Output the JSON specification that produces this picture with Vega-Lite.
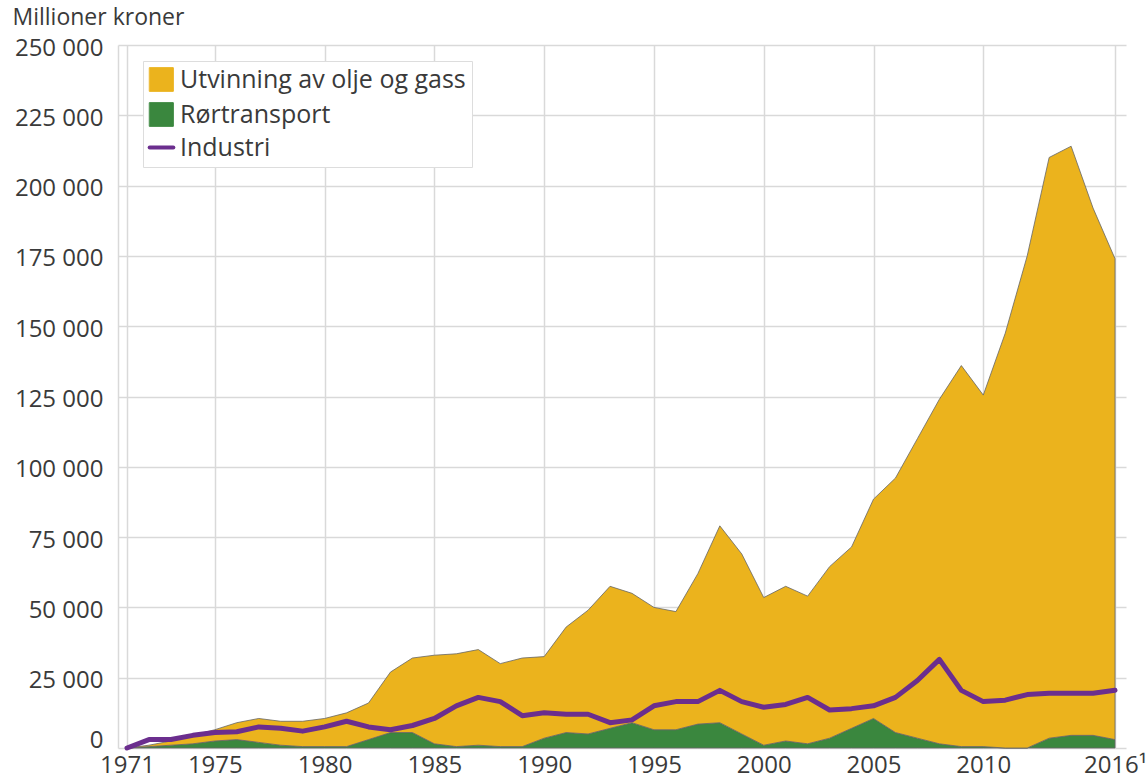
{
  "$schema": "https://vega.github.io/schema/vega-lite/v6.json",
  "width": 1008,
  "height": 703,
  "autosize": {"type": "none"},
  "padding": {"left": 118, "top": 45, "right": 21, "bottom": 36},
  "background": "white",
  "config": {
    "view": {"stroke": null},
    "font": "Open Sans",
    "axis": {"labelFont": "Open Sans", "titleFont": "Open Sans", "labelColor": "#3a3a3a", "titleColor": "#3a3a3a"}
  },
  "data": {"values": [
    {"year":1971,"serie":"Rørtransport","value":0},{"year":1972,"serie":"Rørtransport","value":500},{"year":1973,"serie":"Rørtransport","value":1000},{"year":1974,"serie":"Rørtransport","value":1500},{"year":1975,"serie":"Rørtransport","value":2500},{"year":1976,"serie":"Rørtransport","value":3000},{"year":1977,"serie":"Rørtransport","value":2000},{"year":1978,"serie":"Rørtransport","value":1000},{"year":1979,"serie":"Rørtransport","value":500},{"year":1980,"serie":"Rørtransport","value":500},{"year":1981,"serie":"Rørtransport","value":500},{"year":1982,"serie":"Rørtransport","value":3000},{"year":1983,"serie":"Rørtransport","value":5500},{"year":1984,"serie":"Rørtransport","value":5500},{"year":1985,"serie":"Rørtransport","value":1500},{"year":1986,"serie":"Rørtransport","value":500},{"year":1987,"serie":"Rørtransport","value":1000},{"year":1988,"serie":"Rørtransport","value":500},{"year":1989,"serie":"Rørtransport","value":500},{"year":1990,"serie":"Rørtransport","value":3500},{"year":1991,"serie":"Rørtransport","value":5500},{"year":1992,"serie":"Rørtransport","value":5000},{"year":1993,"serie":"Rørtransport","value":7000},{"year":1994,"serie":"Rørtransport","value":9000},{"year":1995,"serie":"Rørtransport","value":6500},{"year":1996,"serie":"Rørtransport","value":6500},{"year":1997,"serie":"Rørtransport","value":8500},{"year":1998,"serie":"Rørtransport","value":9000},{"year":1999,"serie":"Rørtransport","value":5000},{"year":2000,"serie":"Rørtransport","value":1000},{"year":2001,"serie":"Rørtransport","value":2500},{"year":2002,"serie":"Rørtransport","value":1500},{"year":2003,"serie":"Rørtransport","value":3500},{"year":2004,"serie":"Rørtransport","value":7000},{"year":2005,"serie":"Rørtransport","value":10500},{"year":2006,"serie":"Rørtransport","value":5500},{"year":2007,"serie":"Rørtransport","value":3500},{"year":2008,"serie":"Rørtransport","value":1500},{"year":2009,"serie":"Rørtransport","value":500},{"year":2010,"serie":"Rørtransport","value":500},{"year":2011,"serie":"Rørtransport","value":0},{"year":2012,"serie":"Rørtransport","value":0},{"year":2013,"serie":"Rørtransport","value":3500},{"year":2014,"serie":"Rørtransport","value":4500},{"year":2015,"serie":"Rørtransport","value":4500},{"year":2016,"serie":"Rørtransport","value":3000},
    {"year":1971,"serie":"Utvinning av olje og gass","value":0},{"year":1972,"serie":"Utvinning av olje og gass","value":500},{"year":1973,"serie":"Utvinning av olje og gass","value":1500},{"year":1974,"serie":"Utvinning av olje og gass","value":3000},{"year":1975,"serie":"Utvinning av olje og gass","value":4000},{"year":1976,"serie":"Utvinning av olje og gass","value":6000},{"year":1977,"serie":"Utvinning av olje og gass","value":8500},{"year":1978,"serie":"Utvinning av olje og gass","value":8500},{"year":1979,"serie":"Utvinning av olje og gass","value":9000},{"year":1980,"serie":"Utvinning av olje og gass","value":10000},{"year":1981,"serie":"Utvinning av olje og gass","value":12000},{"year":1982,"serie":"Utvinning av olje og gass","value":13000},{"year":1983,"serie":"Utvinning av olje og gass","value":21500},{"year":1984,"serie":"Utvinning av olje og gass","value":26500},{"year":1985,"serie":"Utvinning av olje og gass","value":31500},{"year":1986,"serie":"Utvinning av olje og gass","value":33000},{"year":1987,"serie":"Utvinning av olje og gass","value":34000},{"year":1988,"serie":"Utvinning av olje og gass","value":29500},{"year":1989,"serie":"Utvinning av olje og gass","value":31500},{"year":1990,"serie":"Utvinning av olje og gass","value":29000},{"year":1991,"serie":"Utvinning av olje og gass","value":37500},{"year":1992,"serie":"Utvinning av olje og gass","value":44000},{"year":1993,"serie":"Utvinning av olje og gass","value":50500},{"year":1994,"serie":"Utvinning av olje og gass","value":46000},{"year":1995,"serie":"Utvinning av olje og gass","value":43500},{"year":1996,"serie":"Utvinning av olje og gass","value":42000},{"year":1997,"serie":"Utvinning av olje og gass","value":53500},{"year":1998,"serie":"Utvinning av olje og gass","value":70000},{"year":1999,"serie":"Utvinning av olje og gass","value":64000},{"year":2000,"serie":"Utvinning av olje og gass","value":52500},{"year":2001,"serie":"Utvinning av olje og gass","value":55000},{"year":2002,"serie":"Utvinning av olje og gass","value":52500},{"year":2003,"serie":"Utvinning av olje og gass","value":61000},{"year":2004,"serie":"Utvinning av olje og gass","value":64500},{"year":2005,"serie":"Utvinning av olje og gass","value":78000},{"year":2006,"serie":"Utvinning av olje og gass","value":90500},{"year":2007,"serie":"Utvinning av olje og gass","value":106500},{"year":2008,"serie":"Utvinning av olje og gass","value":122500},{"year":2009,"serie":"Utvinning av olje og gass","value":135500},{"year":2010,"serie":"Utvinning av olje og gass","value":125000},{"year":2011,"serie":"Utvinning av olje og gass","value":147500},{"year":2012,"serie":"Utvinning av olje og gass","value":175000},{"year":2013,"serie":"Utvinning av olje og gass","value":206500},{"year":2014,"serie":"Utvinning av olje og gass","value":209500},{"year":2015,"serie":"Utvinning av olje og gass","value":187500},{"year":2016,"serie":"Utvinning av olje og gass","value":171000},
    {"year":1971,"serie":"Industri","value":0},{"year":1972,"serie":"Industri","value":3000},{"year":1973,"serie":"Industri","value":3000},{"year":1974,"serie":"Industri","value":4500},{"year":1975,"serie":"Industri","value":5500},{"year":1976,"serie":"Industri","value":5800},{"year":1977,"serie":"Industri","value":7500},{"year":1978,"serie":"Industri","value":7000},{"year":1979,"serie":"Industri","value":6000},{"year":1980,"serie":"Industri","value":7500},{"year":1981,"serie":"Industri","value":9500},{"year":1982,"serie":"Industri","value":7500},{"year":1983,"serie":"Industri","value":6500},{"year":1984,"serie":"Industri","value":8000},{"year":1985,"serie":"Industri","value":10500},{"year":1986,"serie":"Industri","value":15000},{"year":1987,"serie":"Industri","value":18000},{"year":1988,"serie":"Industri","value":16500},{"year":1989,"serie":"Industri","value":11500},{"year":1990,"serie":"Industri","value":12500},{"year":1991,"serie":"Industri","value":12000},{"year":1992,"serie":"Industri","value":12000},{"year":1993,"serie":"Industri","value":9000},{"year":1994,"serie":"Industri","value":10000},{"year":1995,"serie":"Industri","value":15000},{"year":1996,"serie":"Industri","value":16500},{"year":1997,"serie":"Industri","value":16500},{"year":1998,"serie":"Industri","value":20500},{"year":1999,"serie":"Industri","value":16500},{"year":2000,"serie":"Industri","value":14500},{"year":2001,"serie":"Industri","value":15500},{"year":2002,"serie":"Industri","value":18000},{"year":2003,"serie":"Industri","value":13500},{"year":2004,"serie":"Industri","value":14000},{"year":2005,"serie":"Industri","value":15000},{"year":2006,"serie":"Industri","value":18000},{"year":2007,"serie":"Industri","value":24000},{"year":2008,"serie":"Industri","value":31500},{"year":2009,"serie":"Industri","value":20500},{"year":2010,"serie":"Industri","value":16500},{"year":2011,"serie":"Industri","value":17000},{"year":2012,"serie":"Industri","value":19000},{"year":2013,"serie":"Industri","value":19500},{"year":2014,"serie":"Industri","value":19500},{"year":2015,"serie":"Industri","value":19500},{"year":2016,"serie":"Industri","value":20500}
  ]},
  "encoding": {
    "x": {
      "field": "year", "type": "quantitative",
      "scale": {"domain": [1970.59, 2016.5], "nice": false, "zero": false},
      "axis": {
        "title": null,
        "values": [1971, 1975, 1980, 1985, 1990, 1995, 2000, 2005, 2010, 2016],
        "labelExpr": "datum.value == 2016 ? '2016¹' : '' + datum.value",
        "labelFontSize": 24, "labelPadding": 5, "labelOverlap": false, "labelBound": false, "labelFlush": false,
        "ticks": false, "domain": false,
        "grid": true, "gridColor": "#d9d9d9", "gridWidth": 1.5
      }
    },
    "y": {
      "field": "value", "type": "quantitative",
      "scale": {"domain": [0, 250000], "nice": false},
      "axis": {
        "title": "Millioner kroner", "titleAngle": 0, "titleAlign": "left", "titleBaseline": "alphabetic",
        "titleX": -106, "titleY": -21, "titleFontSize": 23, "titleFontWeight": "normal",
        "values": [0, 25000, 50000, 75000, 100000, 125000, 150000, 175000, 200000, 225000, 250000],
        "labelExpr": "replace(format(datum.value, ','), ',', ' ')",
        "labelFontSize": 24, "labelPadding": 15, "ticks": false,
        "labelBaseline": {"condition": {"test": "datum.value === 0", "value": "alphabetic"}, "value": "middle"},
        "labelOffset": {"condition": {"test": "datum.value === 0", "value": -1}, "value": 3},
        "domain": true, "domainColor": "#d9d9d9", "domainWidth": 1.5,
        "grid": true, "gridColor": "#d9d9d9", "gridWidth": 1.5
      }
    },
    "color": {
      "field": "serie", "type": "nominal",
      "scale": {
        "domain": ["Utvinning av olje og gass", "Rørtransport", "Industri"],
        "range": ["#ebb31d", "#3a873e", "#6b2e8e"]
      },
      "legend": {
        "title": null, "orient": "none", "legendX": 25, "legendY": 16,
        "fillColor": "white", "strokeColor": "#dddddd", "padding": 6,
        "labelFont": "Open Sans", "labelFontSize": 25, "labelColor": "#3a3a3a", "labelOffset": 6, "labelLimit": 500,
        "symbolSize": 560, "rowPadding": 6, "symbolType": "square",
        "encode": {
          "symbols": {
            "update": {
              "shape": {"signal": "datum.value === 'Industri' ? 'stroke' : 'square'"},
              "fill": {"signal": "datum.value === 'Industri' ? 'transparent' : scale('color', datum.value)"},
              "stroke": {"signal": "datum.value === 'Industri' ? scale('color', datum.value) : '#888888'"},
              "strokeWidth": {"signal": "datum.value === 'Industri' ? 4 : 1"},
              "strokeCap": {"value": "round"},
              "opacity": {"value": 1},
              "fillOpacity": {"value": 1},
              "strokeOpacity": {"value": 1}
            }
          }
        }
      }
    }
  },
  "layer": [
    {
      "transform": [{"filter": "datum.serie !== 'Industri'"}],
      "mark": {"type": "area", "stroke": "#666666", "strokeWidth": 0.8, "opacity": 1, "fillOpacity": 1},
      "encoding": {
        "y": {"field": "value", "type": "quantitative", "stack": "zero"},
        "order": {"field": "serie", "sort": "ascending"}
      }
    },
    {
      "transform": [{"filter": "datum.serie === 'Industri'"}],
      "mark": {"type": "line", "strokeWidth": 5, "strokeJoin": "round", "strokeCap": "round"},
      "encoding": {}
    }
  ]
}
